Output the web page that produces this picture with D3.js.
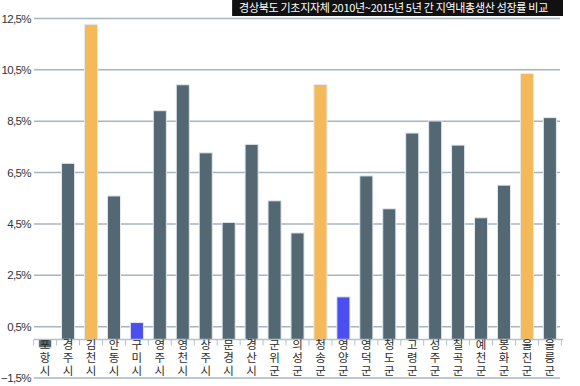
<!DOCTYPE html>
<html>
<head>
<meta charset="utf-8">
<script src="https://cdn.jsdelivr.net/npm/d3@7"></script>
<style>
  body { margin: 0; background: #fff; }
  svg { display: block; }
</style>
</head>
<body>
<div id="chart"></div>
<script>
// 경상북도 기초지자체 성장률 (%)
var regions = ["포항시", "경주시", "김천시", "안동시", "구미시", "영주시", "영천시", "상주시",
  "문경시", "경산시", "군위군", "의성군", "청송군", "영양군", "영덕군", "청도군",
  "고령군", "성주군", "칠곡군", "예천군", "봉화군", "울진군", "울릉군"];
var growth = [-0.32, 6.86, 12.27, 5.59, 0.66, 8.91, 9.92, 7.27,
  4.56, 7.6, 5.4, 4.15, 9.93, 1.66, 6.37, 5.09,
  8.04, 8.51, 7.57, 4.74, 6.01, 10.36, 8.64];
var highlight = ["", "", "top", "", "low", "", "", "",
  "", "", "", "", "top", "low", "", "",
  "", "", "", "", "", "top", ""];
var yTicks = [-1.5, 0.5, 2.5, 4.5, 6.5, 8.5, 10.5, 12.5];
var title = "경상북도 기초지자체 2010년~2015년 5년 간 지역내총생산 성장률 비교";

var width = 580, height = 386;
var colors = { "": "#546873", top: "#f5b95a", low: "#4b4ff0" };

var svg = d3.select("#chart").append("svg")
  .attr("width", width)
  .attr("height", height);

var x = d3.scaleBand()
  .domain(regions)
  .range([34, 561])
  .paddingInner(0.43)
  .paddingOuter(0.2);

var y = d3.scaleLinear()
  .domain([-1.5, 12.5])
  .range([378, 18.5]);

// gridlines
svg.append("g").selectAll("line")
  .data(yTicks)
  .enter().append("line")
  .attr("x1", 34)
  .attr("x2", 560)
  .attr("y1", function(d) { return y(d); })
  .attr("y2", function(d) { return y(d); })
  .attr("stroke", "#a6b5c0")
  .attr("stroke-width", 1.5);

svg.append("g").selectAll("text")
  .data(yTicks)
  .enter().append("text")
  .attr("x", 31)
  .attr("y", function(d) { return y(d) + 4; })
  .attr("text-anchor", "end")
  .attr("font-family", "Liberation Sans, Arial, sans-serif")
  .attr("font-size", 11.5)
  .attr("letter-spacing", -0.6)
  .attr("fill", "#333")
  .text(function(d) { return d3.format(".1f")(d).replace(".", ",") + "%"; });

// bars
var data = regions.map(function(r, i) { return { name: r, value: growth[i], kind: highlight[i] }; });

svg.append("g").selectAll("rect")
  .data(data)
  .enter().append("rect")
  .attr("x", function(d) { return x(d.name); })
  .attr("width", x.bandwidth())
  .attr("y", function(d) { return y(Math.max(0, d.value)); })
  .attr("height", function(d) { return Math.abs(y(d.value) - y(0)); })
  .attr("fill", function(d) { return colors[d.kind]; })
  .attr("stroke", "#e4eaee")
  .attr("stroke-width", 1);

// axis baseline with ticks between categories
var base = svg.append("g");
base.append("line")
  .attr("x1", 34).attr("x2", 563)
  .attr("y1", y(0)).attr("y2", y(0))
  .attr("stroke", "#b4c1ca")
  .attr("stroke-width", 1.5);

var step = x.step();
var bounds = d3.range(regions.length + 1).map(function(i) {
  return x(regions[0]) - (step - x.bandwidth()) / 2 + i * step;
});
base.selectAll(".tk")
  .data(bounds)
  .enter().append("line")
  .attr("x1", function(d) { return d; })
  .attr("x2", function(d) { return d; })
  .attr("y1", y(0))
  .attr("y2", y(0) + 6)
  .attr("stroke", "#b4c1ca")
  .attr("stroke-width", 1);

// vertical stacked labels, one text per character
var chars = [];
data.forEach(function(d) {
  d.name.split("").forEach(function(c, i) {
    chars.push({ c: c, i: i, cx: x(d.name) + x.bandwidth() / 2 });
  });
});

svg.append("g").selectAll("text")
  .data(chars)
  .enter().append("text")
  .attr("x", function(d) { return d.cx; })
  .attr("y", function(d) { return 344.5 + d.i * 13; })
  .attr("dy", "0.35em")
  .attr("text-anchor", "middle")
  .attr("font-family", "Noto Sans CJK KR, sans-serif")
  .attr("font-size", 11.5)
  .attr("fill", "#2b2b2b")
  .text(function(d) { return d.c; });

// title box
var tg = svg.append("g");
var tRect = tg.append("rect").attr("fill", "#111");
var tText = tg.append("text")
  .attr("x", 548)
  .attr("y", 12)
  .attr("text-anchor", "end")
  .attr("font-family", "Noto Sans CJK KR, sans-serif")
  .attr("font-size", 11)
  .attr("letter-spacing", -0.3)
  .attr("fill", "#fff")
  .text(title);
var tw = tText.node().getComputedTextLength();
tRect.attr("x", 548 - tw - 7).attr("y", 0)
  .attr("width", tw + 22).attr("height", 16);
</script>
</body>
</html>
